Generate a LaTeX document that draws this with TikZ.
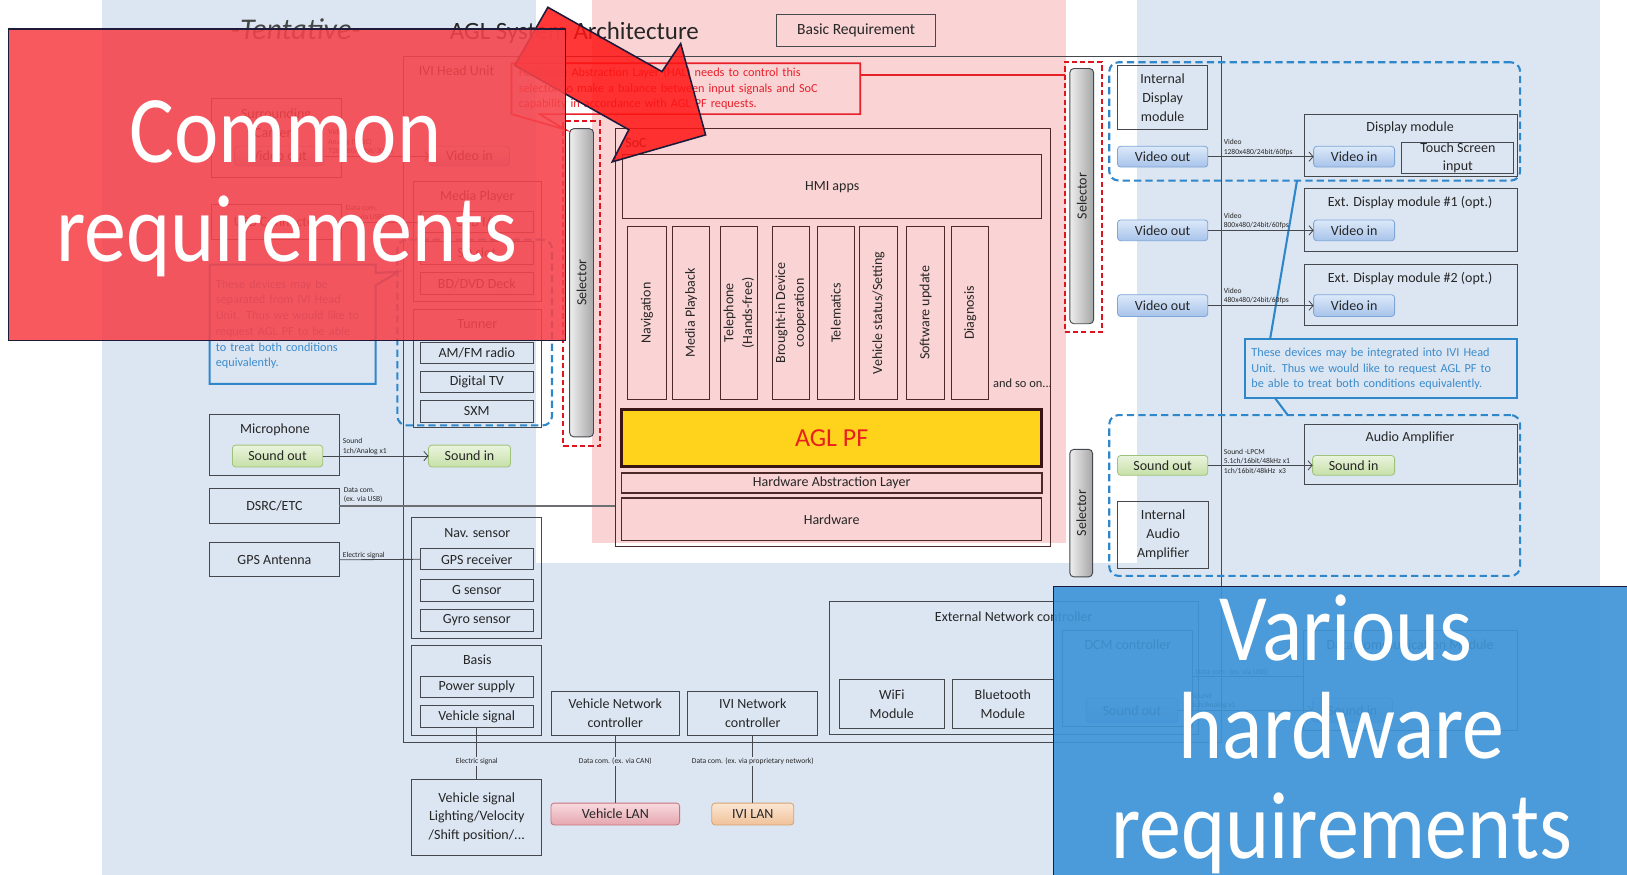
\documentclass[tikz,border=0pt]{standalone}
\usepackage{fontspec}
\setmainfont{Carlito}
\newfontfamily\bigfont[FakeStretch=0.88]{Carlito}
\usetikzlibrary{arrows.meta}

\definecolor{bgblue}{HTML}{DCE6F2}
\definecolor{bgpink}{HTML}{FAD3D4}
\definecolor{txtdark}{HTML}{262626}
\definecolor{titlegray}{HTML}{454545}
\definecolor{linegray}{HTML}{45484D}
\definecolor{socline}{HTML}{4D2A2A}
\definecolor{btnbluetop}{HTML}{DCE9F9}
\definecolor{btnbluebot}{HTML}{A7C3EA}
\definecolor{btnblueedge}{HTML}{7FA6D9}
\definecolor{btngreentop}{HTML}{EAF4DE}
\definecolor{btngreenbot}{HTML}{C6E0A6}
\definecolor{btngreenedge}{HTML}{9EC27A}
\definecolor{vlantop}{HTML}{F7DADE}
\definecolor{vlanbot}{HTML}{E6A6AF}
\definecolor{vlanedge}{HTML}{C8737E}
\definecolor{ivilantop}{HTML}{FBE6D2}
\definecolor{ivilanbot}{HTML}{F0C29A}
\definecolor{ivilanedge}{HTML}{D9A070}
\definecolor{dashblue}{HTML}{2E86CB}
\definecolor{callblue}{HTML}{3B8BCB}
\definecolor{selred}{HTML}{E0141E}
\definecolor{halred}{HTML}{E8202A}
\definecolor{aglgold}{HTML}{FFD21C}
\definecolor{aglred}{HTML}{E8201E}
\definecolor{agledge}{HTML}{3A1414}
\definecolor{commonred}{HTML}{F64249}
\definecolor{variousblue}{HTML}{3F94D7}
\definecolor{edgenavy}{HTML}{1E1B3A}
\definecolor{arrowred}{HTML}{FF1414}
\definecolor{selgrayL}{HTML}{EEEEEE}
\definecolor{selgrayR}{HTML}{A6A6A6}
\definecolor{usbgray}{HTML}{6D6F72}

\newcommand{\normtxt}{\fontsize{13.5}{18}\selectfont}
\newcommand{\calltxt}{\fontsize{11.8}{15.2}\selectfont}
\newcommand{\tinytxt}{\fontsize{7.3}{9}\selectfont}
\newcommand{\hugetxt}{\bigfont\fontsize{92}{95}\selectfont}

\tikzstyle{box} = [rectangle, draw=linegray, line width=0.9pt, anchor=north west, inner sep=1pt, outer sep=0pt, align=center, font=\normtxt, text=txtdark]
\tikzstyle{socbox} = [box, draw=socline]
\tikzstyle{appbox} = [socbox, anchor=center, rotate=90, minimum width=167]
\tikzstyle{lbl} = [font=\normtxt, text=txtdark, inner sep=0pt, align=center]
\tikzstyle{btnblue} = [rectangle, rounded corners=3pt, anchor=north west, draw=btnblueedge, top color=btnbluetop, bottom color=btnbluebot, line width=0.8pt, inner sep=0pt, outer sep=0pt, font=\normtxt, text=txtdark]
\tikzstyle{btngreen} = [btnblue, draw=btngreenedge, top color=btngreentop, bottom color=btngreenbot]
\tikzstyle{btnvlan} = [btnblue, draw=vlanedge, top color=vlantop, bottom color=vlanbot]
\tikzstyle{btnivilan} = [btnblue, draw=ivilanedge, top color=ivilantop, bottom color=ivilanbot]
\tikzstyle{selbar} = [rectangle, rounded corners=4pt, anchor=north west, draw=linegray, line width=0.9pt, left color=selgrayL, right color=selgrayR, outer sep=0pt]
\tikzstyle{dashredbox} = [rectangle, anchor=north west, draw=selred, line width=2pt, dash pattern=on 5pt off 3pt, outer sep=0pt]
\tikzstyle{dashbluebox} = [rectangle, rounded corners=9pt, anchor=north west, draw=dashblue, line width=2pt, dash pattern=on 7pt off 4pt, outer sep=0pt]
\tikzstyle{callbox} = [anchor=north west, inner xsep=6pt, inner ysep=2pt, outer sep=0pt, align=left, font=\calltxt, text=callblue]
\tikzstyle{callline} = [draw=dashblue, line width=2pt]
\tikzstyle{halbox} = [callbox, inner xsep=7pt, text=halred]
\tikzstyle{halline} = [draw=halred, line width=1.6pt]
\tikzstyle{arrow} = [line width=0.8pt, draw=linegray, -{Straight Barb[length=4pt,width=9pt]}]
\tikzstyle{wire} = [line width=0.8pt, draw=linegray]
\tikzstyle{tag} = [font=\tinytxt, text=txtdark, inner sep=1pt, align=left]
\tikzstyle{bigtxt} = [font=\hugetxt, text=white, anchor=base, inner sep=0pt]

\begin{document}
\begin{tikzpicture}[x=1pt, y=-1pt]
\useasboundingbox (0,0) rectangle (1568,843);

% background bands
\fill [bgblue] (98,0) rectangle (1542,843);
\fill [white] (517,0) rectangle (1096,543);
\fill [bgpink] (571,0) rectangle (1027,523);

% title
\node (tentative) [font=\fontsize{29}{32}\selectfont\itshape, text=titlegray, anchor=base] at (285,38) {-Tentative-};
\node (title) [font=\fontsize{24}{28}\selectfont, text=txtdark, anchor=base west] at (430,38) {AGL System Architecture};
\node (basic) [box, minimum width=154, minimum height=31, font=\fontsize{15}{18}\selectfont] at (748,14) {Basic Requirement};

% IVI head unit frame
\node (ivi) [box, minimum width=788, minimum height=662] at (389,54) {};
\node (iviT) [lbl] at (440,68) {IVI Head Unit};

% left side devices
\node (cam) [box, minimum width=125, minimum height=76] at (204,95) {};
\node (camT) [lbl] at (266,119) {Surrounding\\Camera};
\node (camOut) [btnblue, minimum width=86, minimum height=19] at (226,141) {Video out};
\node (camIn) [btnblue, minimum width=77, minimum height=19] at (414,141) {Video in};
\node (usb) [box, minimum width=125, minimum height=34] at (204,197) {USB Connector};

\node (media) [box, minimum width=124, minimum height=116] at (398,175) {};
\node (mediaT) [lbl] at (460,190) {Media Player};
\node (usbif) [box, minimum width=109, minimum height=20] at (405,204) {USB I/F};
\node (sdslot) [box, minimum width=109, minimum height=22] at (405,233) {SD slot};
\node (bddvd) [box, minimum width=109, minimum height=21] at (405,263) {BD/DVD Deck};
\node (tuner) [box, minimum width=124, minimum height=114] at (398,298) {};
\node (tunerT) [lbl] at (460,312) {Tunner};
\node (amfm) [box, minimum width=109, minimum height=20] at (405,330) {AM/FM radio};
\node (dtv) [box, minimum width=109, minimum height=20] at (405,358) {Digital TV};
\node (sxm) [box, minimum width=109, minimum height=21] at (405,386) {SXM};
\node (dashL) [dashbluebox, minimum width=149, minimum height=179] at (383,231) {};

\node (callL) [callbox, text width=148, minimum height=115] at (202,255) {These devices may be\\separated from IVI Head\\Unit. Thus we would like to\\request AGL PF to be able\\to treat both conditions\\equivalently.};
\coordinate (callTipL) at (384,262);
\draw [callline] (callL.north west) -- (callL.north east) -- ([yshift=-8pt]callL.north east) -- (callTipL) -- ([yshift=-20pt]callL.north east) -- (callL.south east) -- (callL.south west) -- cycle;

\node (mic) [box, minimum width=125, minimum height=59] at (202,399) {};
\node (micT) [lbl] at (265,414) {Microphone};
\node (micOut) [btngreen, minimum width=87, minimum height=21] at (224,429) {Sound out};
\node (micIn) [btngreen, minimum width=79, minimum height=21] at (413,429) {Sound in};
\node (dsrc) [box, minimum width=125, minimum height=33] at (202,471) {DSRC/ETC};
\node (gps) [box, minimum width=125, minimum height=33] at (202,523) {GPS Antenna};

\node (nav) [box, minimum width=125, minimum height=116] at (397,499) {};
\node (navT) [lbl] at (460,514) {Nav. sensor};
\node (gpsRx) [box, minimum width=109, minimum height=20] at (405,529) {GPS receiver};
\node (gsens) [box, minimum width=109, minimum height=22] at (405,558) {G sensor};
\node (gyro) [box, minimum width=109, minimum height=22] at (405,587) {Gyro sensor};
\node (basis) [box, minimum width=125, minimum height=87] at (397,622) {};
\node (basisT) [lbl] at (460,636) {Basis};
\node (power) [box, minimum width=109, minimum height=20] at (405,652) {Power supply};
\node (vsig) [box, minimum width=109, minimum height=21] at (405,680) {Vehicle signal};
\node (vnc) [box, minimum width=124, minimum height=43] at (531,666) {Vehicle Network\\controller};
\node (ivinc) [box, minimum width=125, minimum height=43] at (663,666) {IVI Network\\controller};

\node (vbox) [box, minimum width=125, minimum height=73] at (397,751) {Vehicle signal\\Lighting/Velocity\\/Shift position/...};
\node (vlan) [btnvlan, minimum width=124, minimum height=21] at (531,774) {Vehicle LAN};
\node (ivilan) [btnivilan, minimum width=79, minimum height=21] at (686,774) {IVI LAN};

% SoC
\node (soc) [socbox, minimum width=419, minimum height=403] at (593,124) {};
\node (socT) [lbl] at (613,138) {SoC};
\node (hmi) [socbox, minimum width=404, minimum height=62] at (600,149) {HMI apps};
\node (appNav) [appbox, minimum height=37] at (623.5,301.5) {Navigation};
\node (appMedia) [appbox, minimum height=36] at (666,301.5) {Media Playback};
\node (appPhone) [appbox, minimum height=36] at (712,301.5) {Telephone\\(Hands-free)};
\node (appBrought) [appbox, minimum height=36] at (762,301.5) {Brought-in Device\\cooperation};
\node (appTelem) [appbox, minimum height=35] at (805.5,301.5) {Telematics};
\node (appVehicle) [appbox, minimum height=37] at (846.5,301.5) {Vehicle status/Setting};
\node (appSoft) [appbox, minimum height=36] at (892,301.5) {Software update};
\node (appDiag) [appbox, minimum height=36] at (935,301.5) {Diagnosis};
\node (andso) [lbl, anchor=west, font=\fontsize{12}{14}\selectfont] at (957,369) {and so on...};
\node (agl) [socbox, draw=agledge, line width=3pt, fill=aglgold, minimum width=405, minimum height=55, font=\fontsize{25}{28}\selectfont, text=aglred] at (599,395) {AGL PF};
\node (halLayer) [socbox, line width=1.4pt, minimum width=405, minimum height=19] at (599,456) {Hardware Abstraction Layer};
\node (hw) [socbox, line width=1.2pt, minimum width=405, minimum height=41] at (599,480) {Hardware};

% selectors
\node (selLdash) [dashredbox, minimum width=35, minimum height=313] at (543,117) {};
\node (selL) [selbar, minimum width=23, minimum height=297] at (549,124) {};
\node (selLT) [lbl, rotate=90] at (selL) {Selector};
\node (selRdash) [dashredbox, minimum width=36, minimum height=260] at (1026,60) {};
\node (selR) [selbar, minimum width=23, minimum height=246] at (1031,66) {};
\node (selRT) [lbl, rotate=90] at (selR) {Selector};
\node (selB) [selbar, minimum width=22, minimum height=123] at (1031,433) {};
\node (selBT) [lbl, rotate=90] at (selB) {Selector};

% HAL note
\node (hal) [halbox, text width=322, minimum width=336, minimum height=49] at (493,61) {Hardware Abstraction Layer (HAL) needs to control this\\selector to make a balance between input signals and SoC\\capability in accordance with AGL PF requests.};
\coordinate (halTip) at (545,125);
\draw [halline] (hal.north west) -- (hal.north east) -- (hal.south east) -- ([xshift=27pt]hal.south west) -- (halTip) -- (hal.south west) -- cycle;
\draw [halline] ([yshift=-11pt]hal.north east) -- ([yshift=-11pt]hal.north east -| selRdash.west);

% display side
\node (idm) [box, minimum width=87, minimum height=62] at (1077,63) {Internal\\Display\\module};
\node (vout1) [btnblue, minimum width=87, minimum height=20] at (1077,141) {Video out};
\node (vout2) [btnblue, minimum width=87, minimum height=20] at (1077,212) {Video out};
\node (vout3) [btnblue, minimum width=87, minimum height=21] at (1077,284) {Video out};
\node (dmod) [box, minimum width=205, minimum height=60] at (1257,110) {};
\node (dmodT) [lbl] at (1359,123) {Display module};
\node (vin1) [btnblue, minimum width=78, minimum height=20] at (1266,141) {Video in};
\node (touch) [box, minimum width=108, minimum height=30, font=\fontsize{13.5}{17}\selectfont] at (1351,137) {Touch Screen\\input};
\node (ext1) [box, minimum width=205, minimum height=60] at (1257,182) {};
\node (ext1T) [lbl] at (1359,195) {Ext. Display module \#1 (opt.)};
\node (vin2) [btnblue, minimum width=78, minimum height=20] at (1266,212) {Video in};
\node (ext2) [box, minimum width=205, minimum height=59] at (1257,255) {};
\node (ext2T) [lbl] at (1359,268) {Ext. Display module \#2 (opt.)};
\node (vin3) [btnblue, minimum width=78, minimum height=21] at (1266,284) {Video in};
\node (dashRT) [dashbluebox, minimum width=396, minimum height=114] at (1069,60) {};

% audio side
\node (dashRB) [dashbluebox, minimum width=396, minimum height=155] at (1069,400) {};
\node (sndOut) [btngreen, minimum width=87, minimum height=19] at (1077,439) {Sound out};
\node (iaa) [box, minimum width=88, minimum height=65] at (1077,483) {Internal\\Audio\\Amplifier};
\node (amp) [box, minimum width=205, minimum height=58] at (1257,409) {};
\node (ampT) [lbl] at (1359,422) {Audio Amplifier};
\node (sndIn) [btngreen, minimum width=79, minimum height=19] at (1265,439) {Sound in};

\node (callR) [callbox, text width=250, minimum height=57] at (1200,327) {These devices may be integrated into IVI Head\\Unit. Thus we would like to request AGL PF to\\be able to treat both conditions equivalently.};
\draw [callline] (callR.north west) rectangle (callR.south east);
\draw [callline] ([xshift=24pt]callR.north west) -- ([xshift=181pt]dashRT.south west);
\draw [callline] ([xshift=29pt]callR.south west) -- ([xshift=172pt]dashRB.north west);

% external network
\node (extnet) [box, minimum width=356, minimum height=128] at (799,580) {};
\node (extnetT) [lbl] at (977,594) {External Network controller};
\node (wifi) [box, minimum width=101, minimum height=47] at (809,655) {WiFi\\Module};
\node (bt) [box, minimum width=97, minimum height=47] at (918,655) {Bluetooth\\Module};
\node (dcm) [box, minimum width=125, minimum height=92] at (1024,608) {};
\node (dcmT) [lbl] at (1087,621) {DCM controller};
\node (dcmOut) [btnblue, minimum width=88, minimum height=23] at (1047,673) {Sound out};
\node (dcmod) [box, minimum width=206, minimum height=96] at (1256,608) {};
\node (dcmodT) [lbl] at (1359,621) {Data Communication Module};
\node (dcmIn) [btnblue, minimum width=77, minimum height=23] at (1265,673) {Sound in};

% connectors
\draw [arrow] (camOut) -- node[tag, pos=0, anchor=south west, xshift=3pt] {Video\\Analog (NTSC)\\720x480/24bit/30fps} (camIn);
\draw [wire] (usb.east) -- node[tag, pos=0, anchor=south west, xshift=3pt] {Data com.\\(ex. via USB)} (usbif.west);
\draw [arrow] (micOut) -- node[tag, pos=0, anchor=south west, xshift=18pt] {Sound\\1ch/Analog x1} (micIn);
\draw [line width=2.6pt, draw=usbgray] (dsrc.east) -- node[tag, pos=0, anchor=south west, xshift=2pt, yshift=1pt] {Data com.\\(ex. via USB)} (dsrc.east -| soc.west);
\draw [wire] (gps.east) -- node[tag, pos=0, anchor=south west, xshift=2pt] {Electric signal} (gpsRx.west);
\draw [wire] (vsig.south) -- node[tag, pos=0.66, fill=bgblue] {Electric signal} (vbox.north);
\draw [wire] (vnc.south) -- node[tag, pos=0.38, fill=bgblue] {Data com. (ex. via CAN)} (vlan.north);
\draw [wire] (ivinc.south) -- node[tag, pos=0.38, fill=bgblue] {Data com. (ex. via proprietary network)} (ivilan.north);
\draw [arrow] (vout1) -- node[tag, pos=0, anchor=south west, xshift=14pt] {Video\\1280x480/24bit/60fps} (vin1);
\draw [arrow] (vout2) -- node[tag, pos=0, anchor=south west, xshift=14pt] {Video\\800x480/24bit/60fps} (vin2);
\draw [arrow] (vout3) -- node[tag, pos=0, anchor=south west, xshift=14pt] {Video\\480x480/24bit/60fps} (vin3);
\draw [arrow] (sndOut) -- node[tag, pos=0, anchor=west, xshift=14pt, yshift=4pt] {Sound -LPCM\\5.1ch/16bit/48kHz x1\\1ch/16bit/48kHz\ \ x3} (sndIn);
\draw [wire] ([yshift=-44pt]dcm.north east) -- node[tag, pos=0, anchor=south west, xshift=2pt] {Data com. (ex. via USB)} ([yshift=-44pt]dcm.north east -| dcmod.west);
\draw [arrow] (dcmOut) -- node[tag, pos=0, anchor=south west, xshift=12pt] {Sound\\1ch/Analog x1} (dcmIn);

% overlay: common requirements
\draw [draw=edgenavy, line width=1.5pt, fill=arrowred, fill opacity=0.85] (528,7) -- (638,69) -- (656,42) -- (680,130) -- (590,156) -- (606,125) -- (496,63) -- cycle;
\node (common) [anchor=north west, draw=edgenavy, line width=1.3pt, fill=commonred, fill opacity=0.88, minimum width=537, minimum height=300, outer sep=0pt] at (8,28) {};
\node (commonA) [bigtxt] at (275,157) {Common};
\node (commonB) [bigtxt] at (276,252) {requirements};

% overlay: various hardware requirements
\node (various) [anchor=north west, draw=edgenavy, line width=1.3pt, fill=variousblue, fill opacity=0.92, minimum width=560, minimum height=285, outer sep=0pt] at (1015,565) {};
\node (variousA) [bigtxt] at (1297,637) {Various};
\node (variousB) [bigtxt] at (1293,731) {hardware};
\node (variousC) [bigtxt] at (1293,827) {requirements};

\end{tikzpicture}
\end{document}
